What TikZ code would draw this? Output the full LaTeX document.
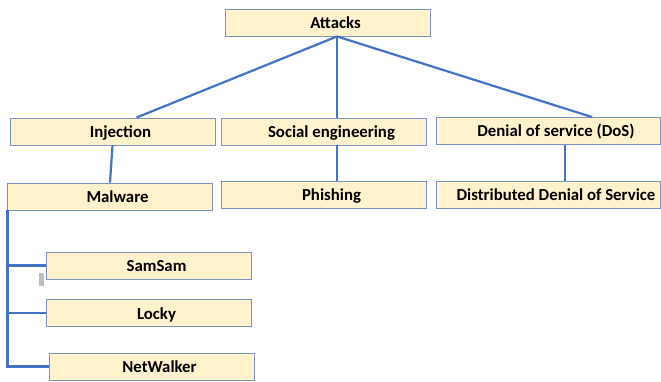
\documentclass[tikz,border=0pt]{standalone}
\usepackage{fontspec}
\setmainfont{Carlito}
\usetikzlibrary{calc}
\definecolor{boxfill}{HTML}{FFF2CC}
\definecolor{boxline}{HTML}{7A93C2}
\definecolor{linkblue}{HTML}{4472C4}
\tikzset{
  box/.style={draw=boxline, line width=0.9pt, fill=boxfill, minimum width=205pt,
              minimum height=27pt, inner sep=0pt, text height=12pt, text depth=0pt,
              font=\fontsize{16.8}{18}\selectfont\bfseries,
              execute at begin node=\hspace*{16pt}},
  connector/.style={draw=linkblue, line width=2.2pt}
}
\begin{document}
\begin{tikzpicture}[x=1pt, y=-1pt]
\useasboundingbox (0,0) rectangle (661,382);
% top level
\node[box] (attacks) at (327.5,22.5) {Attacks};
% categories
\node[box] (inj)    at (112.5,131.5) {Injection};
\node[box] (social) at (323.5,131.5) {Social engineering};
\node[box, minimum width=224pt] (dos) at (548,131) {Denial of service (DoS)};
% second level
\node[box] (malware)  at (109.5,196.5) {Malware};
\node[box] (phishing) at (323.5,194.5) {Phishing};
\node[box, minimum width=224pt] (ddos) at (548,194.5) {Distributed Denial of Service};
% malware family
\node[box] (samsam)    at (148.5,265.5) {SamSam};
\node[box] (locky)     at (148.5,313)   {Locky};
\node[box] (netwalker) at (151.5,366.5) {NetWalker};
% small grey marker
\fill[gray!50] (39,273) rectangle (44,286);
% connectors
\coordinate (apex) at ([xshift=9.5pt]attacks.south);
\draw[connector] (apex) -- ([xshift=24pt]inj.north);
\draw[connector] (apex) -- (apex |- social.north);
\draw[connector] (apex) -- ([xshift=44pt]dos.north);
\draw[connector] (inj.south) -- ([xshift=0.5pt]malware.north);
\draw[connector] ([xshift=13.5pt]social.south) -- ([xshift=13.5pt]phishing.north);
\draw[connector] ([xshift=17pt]dos.south) -- ([xshift=17pt]ddos.north);
\coordinate (bus) at ([xshift=1pt]malware.south west);
\draw[connector] (bus) |- (netwalker.west);
\draw[connector] (samsam.west) -- (samsam.west -| bus);
\draw[connector] (locky.west) -- (locky.west -| bus);
\end{tikzpicture}
\end{document}
